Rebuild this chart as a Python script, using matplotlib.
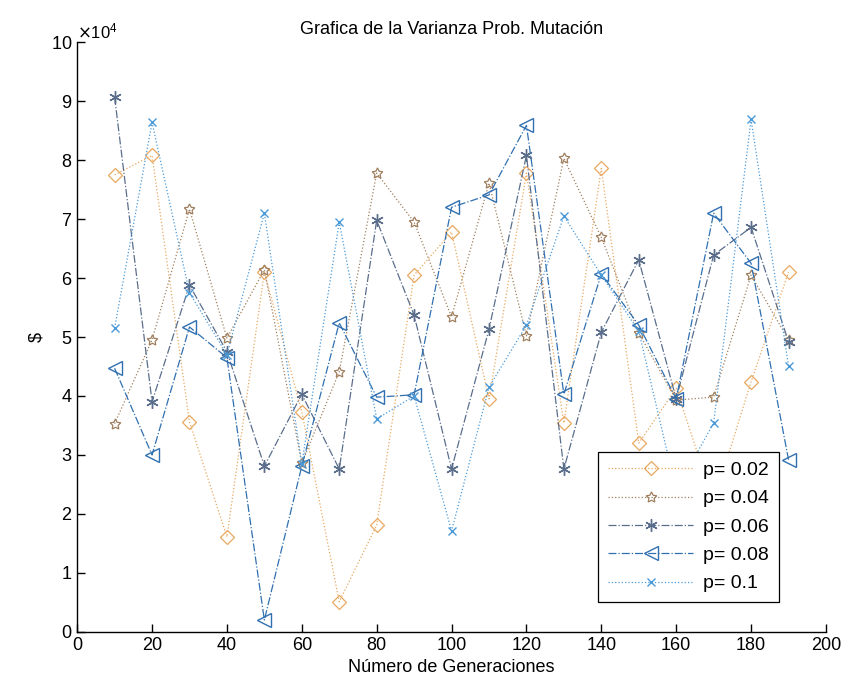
import numpy as np
import matplotlib
matplotlib.use("Agg")
import matplotlib.pyplot as plt
from matplotlib.ticker import ScalarFormatter

plt.rcParams['font.family'] = ['Liberation Sans', 'DejaVu Sans']

# generations
gens = [10, 20, 30, 40, 50, 60, 70, 80, 90, 100, 110, 120, 130, 140, 150, 160, 170, 180, 190]

# variance values (x 10^4)
p002 = [7.75, 8.08, 3.56, 1.61, 6.10, 3.73, 0.51, 1.81, 6.05, 6.78,
        3.95, 7.78, 3.54, 7.86, 3.20, 4.13, 2.20, 4.24, 6.10]
p004 = [3.53, 4.95, 7.17, 4.98, 6.14, 2.86, 4.41, 7.78, 6.95, 5.34,
        7.61, 5.02, 8.03, 6.69, 5.07, 3.93, 3.98, 6.05, 4.95]
p006 = [9.07, 3.90, 5.88, 4.75, 2.81, 4.03, 2.76, 6.98, 5.37, 2.76,
        5.13, 8.08, 2.76, 5.08, 6.31, 3.95, 6.39, 6.86, 4.92]
p008 = [4.47, 3.00, 5.17, 4.65, 0.20, 2.81, 5.24, 3.98, 4.02, 7.20,
        7.41, 8.59, 4.03, 6.07, 5.20, 3.95, 7.10, 6.25, 2.92]
p010 = [5.15, 8.64, 5.75, 4.70, 7.10, 2.85, 6.95, 3.61, 4.00, 1.71,
        4.15, 5.20, 7.05, 6.05, 5.10, 2.40, 3.54, 8.69, 4.51]

labels = ['p= 0.02', 'p= 0.04', 'p= 0.06', 'p= 0.08', 'p= 0.1']

fig = plt.figure(figsize=(8.48, 6.92), dpi=100)
ax = fig.add_axes([0.091, 0.087, 0.883, 0.852])

x = np.array(gens)
scale = 1e4
ax.plot(x, np.array(p002) * scale, linestyle=':', color='#E8A860', lw=0.9,
        marker='D', ms=7, mfc='none', mew=0.9, label=labels[0])
ax.plot(x, np.array(p004) * scale, linestyle=':', color='#A08060', lw=0.9,
        marker=(5, 1, 0), ms=8, mfc='none', mew=0.9, label=labels[1])
ax.plot(x, np.array(p006) * scale, linestyle='-.', color='#5A6E8C', lw=0.9,
        marker=(6, 2, 0), ms=9, mew=1.0, label=labels[2])
ax.plot(x, np.array(p008) * scale, linestyle='-.', color='#3070B0', lw=0.9,
        marker='<', ms=10, mfc='none', mew=1.0, label=labels[3])
ax.plot(x, np.array(p010) * scale, linestyle=':', color='#4A9AD8', lw=0.9,
        marker='x', ms=6, mew=1.0, label=labels[4])

ax.set_xlim(0, 200)
ax.set_ylim(0, 1e5)
ax.set_xticks(np.arange(0, 201, 20))
ax.set_yticks(np.arange(0, 100001, 10000))

fmt = ScalarFormatter(useMathText=True)
fmt.set_powerlimits((4, 4))
ax.yaxis.set_major_formatter(fmt)
ax.yaxis.get_offset_text().set_fontsize(12)

ax.spines['top'].set_visible(False)
ax.spines['right'].set_visible(False)
ax.tick_params(direction='in', length=6, labelsize=13, width=1)
for s in ['left', 'bottom']:
    ax.spines[s].set_linewidth(1.0)

ax.set_title('Grafica de la Varianza Prob. Mutación', fontsize=13)
ax.set_xlabel('Número de Generaciones', fontsize=13)
ax.set_ylabel('\\$', fontsize=13)

leg = ax.legend(loc='lower right', bbox_to_anchor=(0.95, 0.034), fontsize=14,
                frameon=True, fancybox=False, edgecolor='black', framealpha=1,
                handlelength=4.4, borderpad=0.5, labelspacing=0.55,
                handletextpad=0.5)
leg.get_frame().set_linewidth(0.9)
leg.set_zorder(10)

fig.savefig('out.png', dpi=100)
